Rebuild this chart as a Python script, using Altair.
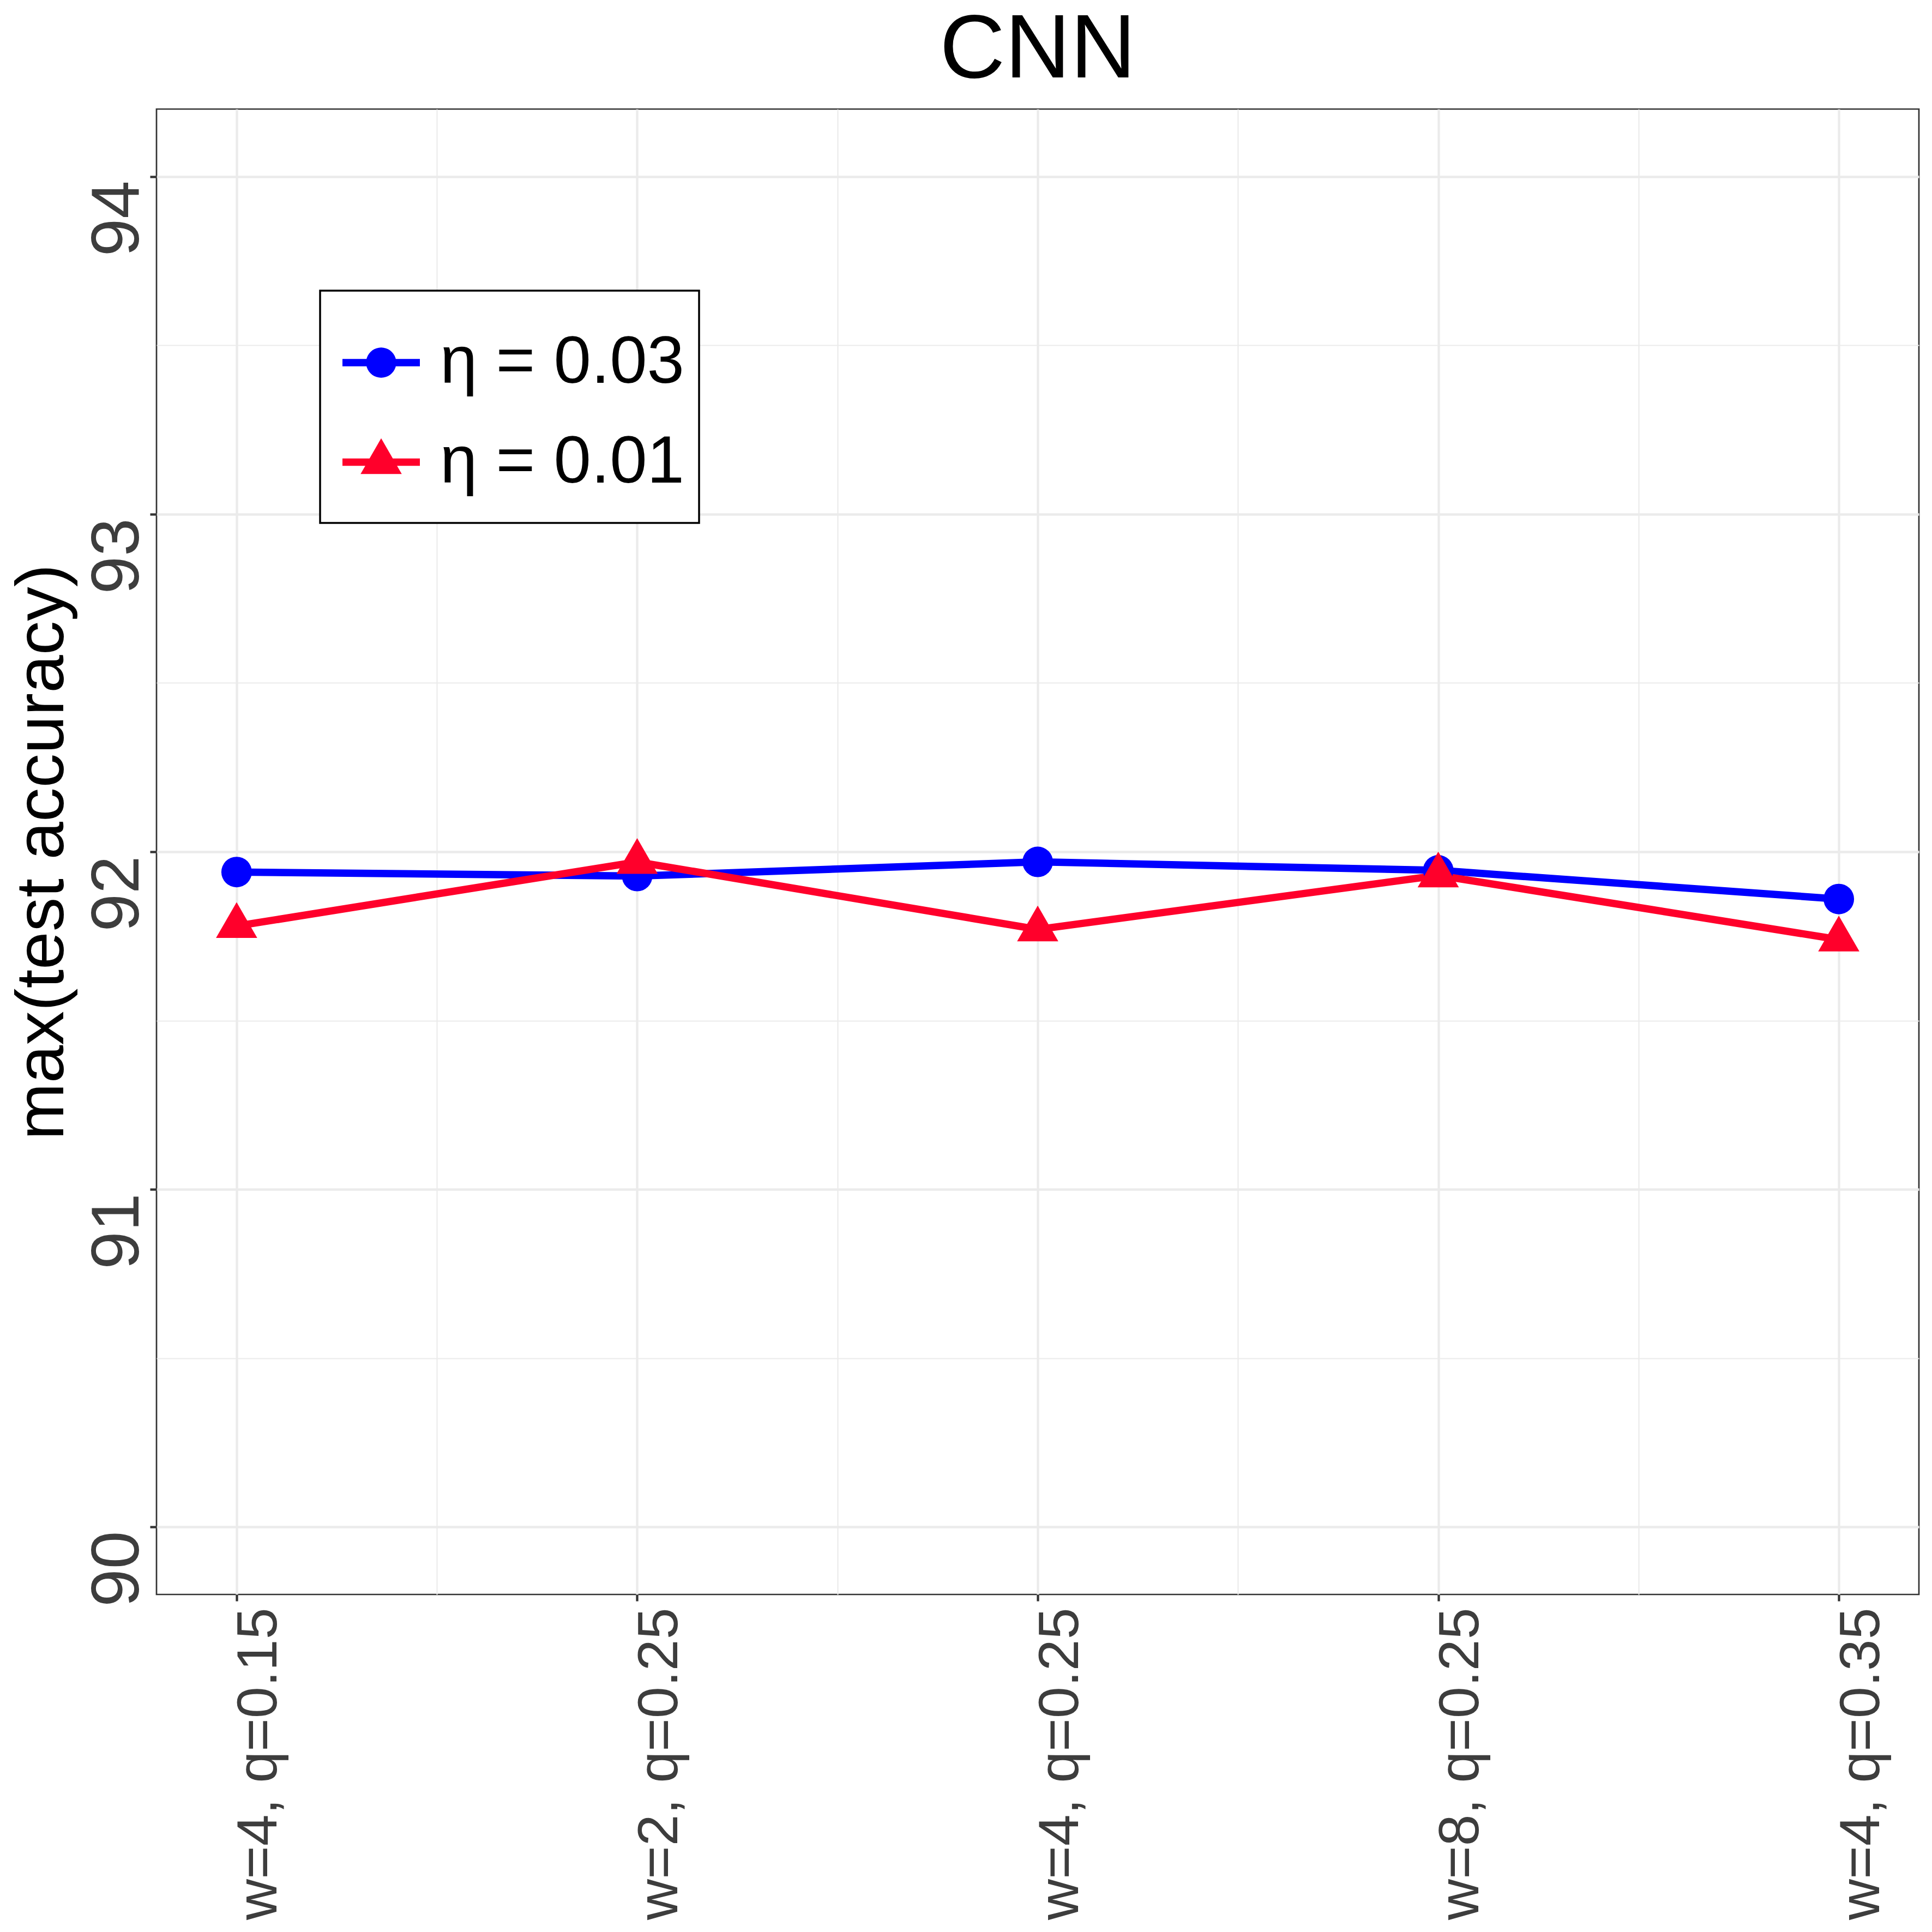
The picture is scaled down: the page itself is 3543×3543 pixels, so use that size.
import math
import altair as alt
import pandas as pd

# ---- data ----
settings = ["w=4, q=0.15", "w=2, q=0.25", "w=4, q=0.25", "w=8, q=0.25", "w=4, q=0.35"]
positions = [1, 2, 3, 4, 5]
series_names = ["η = 0.03", "η = 0.01"]
acc_eta_003 = [91.94, 91.928, 91.97, 91.945, 91.86]
acc_eta_001 = [91.78, 91.97, 91.77, 91.93, 91.74]
series_colors = ["#0000FF", "#FF002B"]
y_ticks = [90, 91, 92, 93, 94]
y_minor = [90.5, 91.5, 92.5, 93.5]
x_minor = [1.5, 2.5, 3.5, 4.5]

rows = []
for name, vals in zip(series_names, [acc_eta_003, acc_eta_001]):
    for p, s, v in zip(positions, settings, vals):
        rows.append({"pos": p, "setting": s, "series": name, "acc": v})
df = pd.DataFrame(rows)

FONT = "Liberation Sans"
GRID = "#EBEBEB"
DARK = "#333333"
LABEL = "#3d3d3d"


def poly_circle(r, n=40):
    pts = []
    for i in range(n):
        a = 2 * math.pi * i / n
        pts.append(f"{r * math.cos(a):.4f},{r * math.sin(a):.4f}")
    return "M" + "L".join(pts) + "Z"


# symbol shapes (custom SVG paths in the unit box)
TRI = "M0,-1.155L1,0.577L-1,0.577Z"
BAR = "M-1,-0.095L1,-0.095L1,0.095L-1,0.095Z"
# zero-area sub-paths that only widen the legend row (no visible ink)
EXT = " M-0.01,-1.19L0.01,-1.19Z M-0.01,1.19L0.01,1.19Z"
LEG_CIRCLE = BAR + " " + poly_circle(0.39) + EXT
LEG_TRI = BAR + " M0,-0.615L0.532,0.307L-0.532,0.307Z" + EXT

W, H = 3232, 2724

x_scale = alt.Scale(domain=[0.8, 5.2], nice=False, zero=False)
y_scale = alt.Scale(domain=[89.8, 94.2], nice=False, zero=False)

label_js = "[" + ",".join("'" + s + "'" for s in settings) + "][datum.value - 1]"

x_major = alt.Axis(
    values=positions, labelExpr=label_js, labelAngle=270, labelAlign="right",
    labelBaseline="top", labelOffset=-9, labelPadding=12, labelFontSize=104,
    labelColor=LABEL, labelFont=FONT, labelLimit=2000, labelOverlap=False,
    labelFlush=False, tickSize=12, tickWidth=4.3, tickColor=DARK, domain=False,
    grid=True, gridColor=GRID, gridWidth=4.3, title=None,
)
y_major = alt.Axis(
    values=y_ticks, format="d", labelAngle=270, labelAlign="right",
    labelBaseline="alphabetic", labelOffset=7, labelPadding=22, labelFontSize=125,
    labelColor=LABEL, labelFont=FONT, labelOverlap=False, labelFlush=False,
    tickSize=12, tickWidth=4.3, tickColor=DARK, domain=False, grid=True,
    gridColor=GRID, gridWidth=4.3, title="max(test accuracy)", titleFont=FONT,
    titleFontSize=125, titleFontWeight="normal", titleColor="black",
    titleAngle=270, titleX=-172, titleY=H / 2, titleAlign="center",
    titleBaseline="alphabetic",
)
x_minor_axis = alt.Axis(
    orient="top", values=x_minor, labels=False, ticks=False, domain=False,
    grid=True, gridColor=GRID, gridWidth=2.2, title=None,
)
y_minor_axis = alt.Axis(
    orient="right", values=y_minor, labels=False, ticks=False, domain=False,
    grid=True, gridColor=GRID, gridWidth=2.2, title=None,
)

base = alt.Chart(df)
blue = base.transform_filter(alt.datum.series == series_names[0])
red = base.transform_filter(alt.datum.series == series_names[1])

line_kw = dict(strokeWidth=13.5, strokeJoin="round", strokeCap="butt")

blue_line = blue.mark_line(color=series_colors[0], **line_kw).encode(
    x=alt.X("pos:Q", scale=x_scale, axis=x_major),
    y=alt.Y("acc:Q", scale=y_scale, axis=y_major),
)
red_line = red.mark_line(color=series_colors[1], **line_kw).encode(
    x=alt.X("pos:Q", scale=x_scale, axis=x_minor_axis),
    y=alt.Y("acc:Q", scale=y_scale, axis=y_minor_axis),
)
circles = blue.mark_point(
    filled=True, shape="circle", size=3136, opacity=1, color=series_colors[0]
).encode(
    x=alt.X("pos:Q", scale=x_scale, axis=None),
    y=alt.Y("acc:Q", scale=y_scale, axis=None),
)
triangles = red.mark_point(
    filled=True, shape=TRI, size=5715, opacity=1, color=series_colors[1]
).encode(
    x=alt.X("pos:Q", scale=x_scale, axis=None),
    y=alt.Y("acc:Q", scale=y_scale, axis=None),
)

legend_def = alt.Legend(
    orient="none", legendX=300, legendY=333, title=" ", titleFontSize=1,
    titlePadding=33, labelFont=FONT, labelFontSize=123, labelColor="black",
    labelOffset=37, labelLimit=2000, symbolSize=20164, symbolStrokeWidth=0,
    symbolOffset=14, rowPadding=12.5, symbolOpacity=1,
)

legend_layer = base.mark_point(filled=True, opacity=0, size=20164).encode(
    x=alt.X("pos:Q", scale=x_scale, axis=None),
    y=alt.Y("acc:Q", scale=y_scale, axis=None),
    color=alt.Color("series:N",
                    scale=alt.Scale(domain=series_names, range=series_colors),
                    legend=legend_def),
    shape=alt.Shape("series:N",
                    scale=alt.Scale(domain=series_names, range=[LEG_CIRCLE, LEG_TRI]),
                    legend=legend_def),
)

chart = alt.layer(blue_line, red_line, circles, triangles, legend_layer).resolve_axis(
    x="independent", y="independent"
).properties(
    width=W, height=H,
    autosize=alt.AutoSizeParams(type="none"),
    padding={"left": 279, "top": 192, "right": 16, "bottom": 610},
    title=alt.TitleParams("CNN", font=FONT, fontSize=166, fontWeight="normal",
                          color="black", anchor="middle", baseline="top",
                          offset=23),
).configure_view(
    stroke=DARK, strokeWidth=2.7
).configure_legend(
    strokeColor="black", strokeWidth=3.5, fillColor="white", padding=27,
    cornerRadius=0,
)

chart.save("out.html", embed_options={"renderer": "svg", "actions": False})
